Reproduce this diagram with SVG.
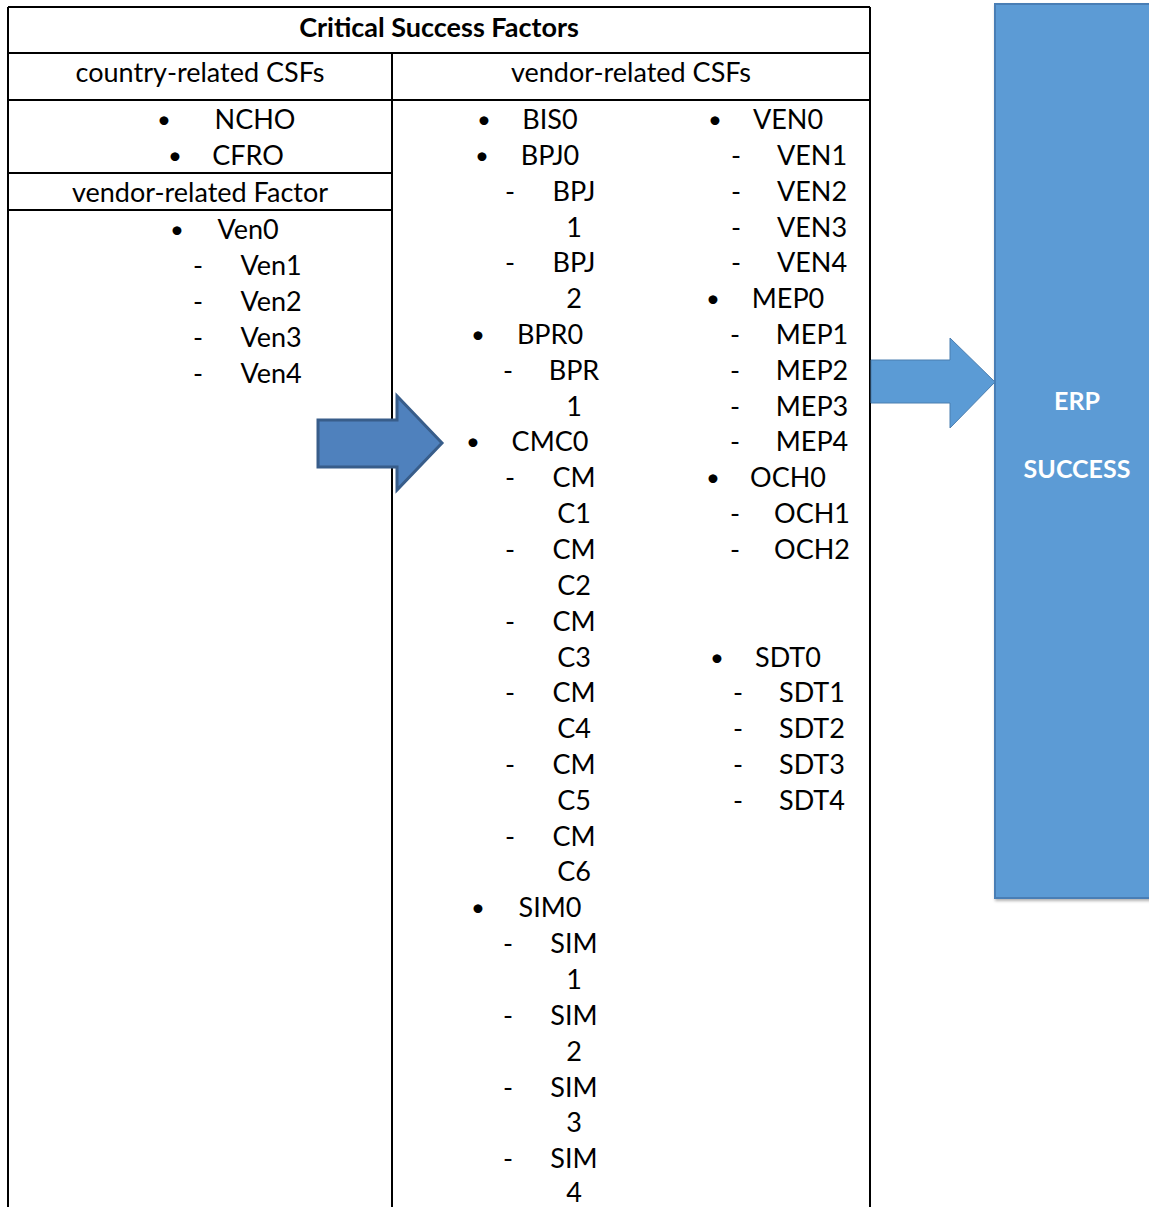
<svg xmlns="http://www.w3.org/2000/svg" width="1149" height="1207" viewBox="0 0 1149 1207">
<defs>
<style>
text{font-family:Lato,"Liberation Sans",sans-serif;font-size:27px;fill:#000}
.c{text-anchor:middle}
.b{font-weight:bold}
.w{fill:#fff;font-weight:bold;text-anchor:middle;font-size:25px}
.ln{stroke:#000;stroke-width:2;fill:none}
.bu{font-size:24px}
</style>
<filter id="sh" x="-10%" y="-10%" width="130%" height="130%"><feDropShadow dx="1" dy="2" stdDeviation="1.5" flood-color="#000" flood-opacity="0.3"/></filter>
</defs>
<rect width="1149" height="1207" fill="#fff"/>
<g id="table">
<path class="ln" d="M8,7 H870 M8,53 H870 M8,100 H870 M8,173 H392 M8,210 H392 M8,7 V1207 M870,7 V1207 M392,53 V1207"/>
<text class="c b" x="439" y="37">Critical Success Factors</text>
<text class="c" x="200" y="82">country-related CSFs</text>
<text class="c" x="631" y="82">vendor-related CSFs</text>
</g>
<g id="country-column">
<text class="bu" x="157" y="128">•</text><text class="c" x="255" y="129">NCHO</text>
<text class="bu" x="168" y="164">•</text><text class="c" x="248" y="165">CFRO</text>
<text class="c" x="200" y="202">vendor-related Factor</text>
<text class="bu" x="170" y="238">•</text><text class="c" x="248" y="239">Ven0</text>
<text class="c" x="198" y="275">-</text><text class="c" x="271" y="275">Ven1</text>
<text class="c" x="198" y="311">-</text><text class="c" x="271" y="311">Ven2</text>
<text class="c" x="198" y="347">-</text><text class="c" x="271" y="347">Ven3</text>
<text class="c" x="198" y="383">-</text><text class="c" x="271" y="383">Ven4</text>
</g>
<g id="vendor-column-a">
<text class="bu" x="477" y="128">•</text><text class="c" x="550" y="129">BIS0</text>
<text class="bu" x="475" y="164">•</text><text class="c" x="550" y="165">BPJ0</text>
<text class="c" x="510" y="201">-</text><text class="c" x="574" y="201">BPJ</text>
<text class="c" x="574" y="237">1</text>
<text class="c" x="510" y="272">-</text><text class="c" x="574" y="272">BPJ</text>
<text class="c" x="574" y="308">2</text>
<text class="bu" x="471" y="343">•</text><text class="c" x="550" y="344">BPR0</text>
<text class="c" x="508" y="380">-</text><text class="c" x="574" y="380">BPR</text>
<text class="c" x="574" y="416">1</text>
<text class="bu" x="466" y="450">•</text><text class="c" x="550" y="451">CMC0</text>
<text class="c" x="510" y="487">-</text><text class="c" x="574" y="487">CM</text>
<text class="c" x="574" y="523">C1</text>
<text class="c" x="510" y="559">-</text><text class="c" x="574" y="559">CM</text>
<text class="c" x="574" y="595">C2</text>
<text class="c" x="510" y="631">-</text><text class="c" x="574" y="631">CM</text>
<text class="c" x="574" y="667">C3</text>
<text class="c" x="510" y="702">-</text><text class="c" x="574" y="702">CM</text>
<text class="c" x="574" y="738">C4</text>
<text class="c" x="510" y="774">-</text><text class="c" x="574" y="774">CM</text>
<text class="c" x="574" y="810">C5</text>
<text class="c" x="510" y="846">-</text><text class="c" x="574" y="846">CM</text>
<text class="c" x="574" y="881">C6</text>
<text class="bu" x="471" y="916">•</text><text class="c" x="550" y="917">SIM0</text>
<text class="c" x="508" y="953">-</text><text class="c" x="574" y="953">SIM</text>
<text class="c" x="574" y="989">1</text>
<text class="c" x="508" y="1025">-</text><text class="c" x="574" y="1025">SIM</text>
<text class="c" x="574" y="1061">2</text>
<text class="c" x="508" y="1097">-</text><text class="c" x="574" y="1097">SIM</text>
<text class="c" x="574" y="1132">3</text>
<text class="c" x="508" y="1168">-</text><text class="c" x="574" y="1168">SIM</text>
<text class="c" x="574" y="1202">4</text>
</g>
<g id="vendor-column-b">
<text class="bu" x="708" y="128">•</text><text class="c" x="788" y="129">VEN0</text>
<text class="c" x="736" y="165">-</text><text class="c" x="812" y="165">VEN1</text>
<text class="c" x="736" y="201">-</text><text class="c" x="812" y="201">VEN2</text>
<text class="c" x="736" y="237">-</text><text class="c" x="812" y="237">VEN3</text>
<text class="c" x="736" y="272">-</text><text class="c" x="812" y="272">VEN4</text>
<text class="bu" x="706" y="307">•</text><text class="c" x="788" y="308">MEP0</text>
<text class="c" x="735" y="344">-</text><text class="c" x="812" y="344">MEP1</text>
<text class="c" x="735" y="380">-</text><text class="c" x="812" y="380">MEP2</text>
<text class="c" x="735" y="416">-</text><text class="c" x="812" y="416">MEP3</text>
<text class="c" x="735" y="451">-</text><text class="c" x="812" y="451">MEP4</text>
<text class="bu" x="706" y="486">•</text><text class="c" x="788" y="487">OCH0</text>
<text class="c" x="735" y="523">-</text><text class="c" x="812" y="523">OCH1</text>
<text class="c" x="735" y="559">-</text><text class="c" x="812" y="559">OCH2</text>
<text class="bu" x="710" y="666">•</text><text class="c" x="788" y="667">SDT0</text>
<text class="c" x="738" y="702">-</text><text class="c" x="812" y="702">SDT1</text>
<text class="c" x="738" y="738">-</text><text class="c" x="812" y="738">SDT2</text>
<text class="c" x="738" y="774">-</text><text class="c" x="812" y="774">SDT3</text>
<text class="c" x="738" y="810">-</text><text class="c" x="812" y="810">SDT4</text>
</g>
<g id="erp-success">
<rect x="995" y="4" width="160" height="894" fill="#5B9BD5" stroke="#4A7EB5" stroke-width="2" filter="url(#sh)"/>
<text class="w" x="1077" y="410">ERP</text>
<text class="w" x="1077" y="478">SUCCESS</text>
</g>
<g id="connectors">
<path d="M318,420 H397 V396 L442,443 L397,490 V467 H318 Z" fill="#4F81BD" stroke="#385D8A" stroke-width="3" stroke-linejoin="miter"/>
<path d="M871,360 H950 V338 L995,382 L950,428 V403 H871 Z" fill="#5B9BD5" stroke="#4A7EB0" stroke-width="1"/>
</g>
</svg>
